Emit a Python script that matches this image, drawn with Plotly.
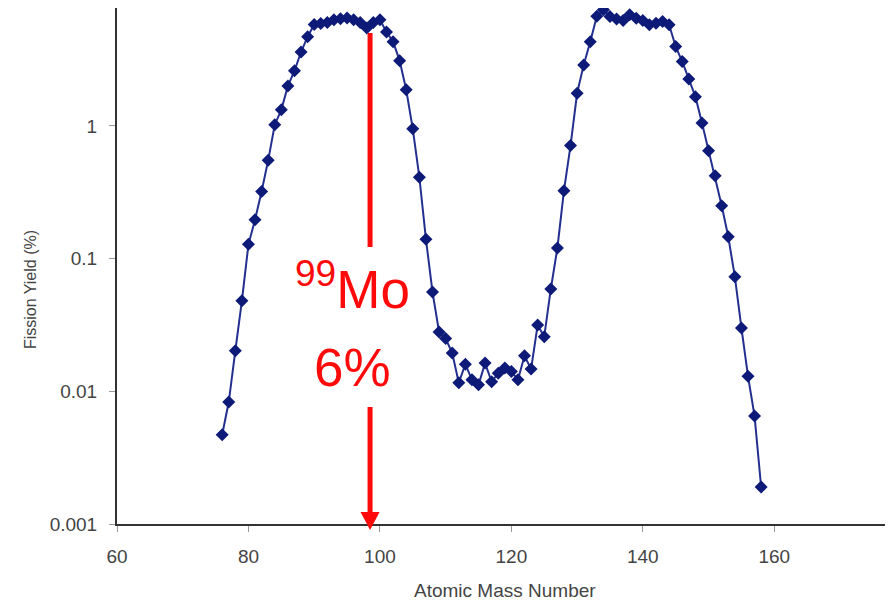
import plotly.graph_objects as go

# Atomic mass number and fission yield (%)
mass_number = list(range(76, 159))
fission_yield = [
    0.0047, 0.0083, 0.0202, 0.048, 0.128, 0.196, 0.32, 0.55, 1.02, 1.32,   # 76-85
    2.0, 2.6, 3.6, 4.7, 5.8, 5.9, 6.0, 6.3, 6.4, 6.5,                      # 86-95
    6.3, 6.0, 5.45, 6.0, 6.3, 5.1, 4.3, 3.1, 1.87, 0.95,                   # 96-105
    0.41, 0.14, 0.056, 0.028, 0.025, 0.0194, 0.0116, 0.016, 0.0122, 0.0112, # 106-115
    0.0163, 0.0118, 0.0137, 0.0150, 0.0141, 0.0122, 0.0185, 0.0147, 0.0316, 0.0258,  # 116-125
    0.059, 0.12, 0.325, 0.71, 1.76, 2.88, 4.3, 6.7, 7.5, 6.67,             # 126-135
    6.38, 6.22, 6.86, 6.48, 6.22, 5.77, 5.94, 6.11, 5.77, 3.96,            # 136-145
    3.05, 2.25, 1.66, 1.05, 0.65, 0.42, 0.25, 0.146, 0.073, 0.030,         # 146-155
    0.013, 0.0065, 0.0019,                                                 # 156-158
]

x_ticks = [60, 80, 100, 120, 140, 160]
y_ticks = [0.001, 0.01, 0.1, 1]
y_tick_text = ["0.001", "0.01", "0.1", "1"]

mo_marker_a = 98.5          # position of the red 99Mo marker line
mo_label = "<sup>99</sup>Mo"
mo_yield_label = "6%"

RED = "#ff0a0a"
AXIS = "#333333"
FONT = "Liberation Sans, Arial, sans-serif"

fig = go.Figure()
fig.add_trace(go.Scatter(
    x=mass_number, y=fission_yield, mode="lines+markers",
    line=dict(color="#24308f", width=2),
    marker=dict(symbol="diamond", size=10, color="#0d1a78"),
    showlegend=False,
))

# red marker line with arrow
fig.add_shape(type="line", xref="x", yref="paper",
              x0=mo_marker_a, x1=mo_marker_a, y0=0.9516, y1=0.5368,
              line=dict(color=RED, width=5))
fig.add_shape(type="line", xref="x", yref="paper",
              x0=mo_marker_a, x1=mo_marker_a, y0=0.2267, y1=0.02,
              line=dict(color=RED, width=5))
fig.add_shape(type="path", xref="x", yref="paper",
              path=f"M {mo_marker_a-1.45},0.0233 L {mo_marker_a+1.45},0.0233 L {mo_marker_a},-0.0116 Z",
              fillcolor=RED, line=dict(color=RED, width=0))

fig.add_annotation(x=95.9, y=0.462, xref="x", yref="paper", text=mo_label,
                   xanchor="center", yanchor="middle",
                   showarrow=False, font=dict(family=FONT, size=53, color=RED))
fig.add_annotation(x=95.9, y=0.303, xref="x", yref="paper", text=mo_yield_label,
                   xanchor="center", yanchor="middle",
                   showarrow=False, font=dict(family=FONT, size=53, color=RED))

# axis titles
fig.add_annotation(x=-0.113, y=0.455, xref="paper", yref="paper", text="Fission Yield (%)",
                   textangle=-90, showarrow=False, xanchor="center", yanchor="middle",
                   font=dict(family=FONT, size=16, color="#444444"))
fig.add_annotation(x=0.503, y=-0.129, xref="paper", yref="paper", text="Atomic Mass Number",
                   showarrow=False, xanchor="center", yanchor="middle",
                   font=dict(family=FONT, size=19, color="#444444"))

fig.update_xaxes(range=[60, 177.3], tickvals=x_ticks, showgrid=False, zeroline=False,
                 showline=True, linecolor=AXIS, linewidth=2,
                 ticks="outside", ticklen=6, tickcolor="#999999", tickwidth=1,
                 ticklabelstandoff=8,
                 tickfont=dict(family=FONT, size=19, color="#444444"))
fig.update_yaxes(type="log", range=[-3, 0.888], tickvals=y_ticks, ticktext=y_tick_text,
                 showgrid=False, zeroline=False,
                 showline=True, linecolor=AXIS, linewidth=2,
                 ticks="outside", ticklen=6, tickcolor="#999999", tickwidth=1,
                 ticklabelstandoff=8,
                 tickfont=dict(family=FONT, size=19, color="#444444"))

fig.update_layout(width=893, height=604,
                  margin=dict(l=109, r=13, t=0, b=88),
                  paper_bgcolor="white", plot_bgcolor="white")

fig.write_html("out.html")
